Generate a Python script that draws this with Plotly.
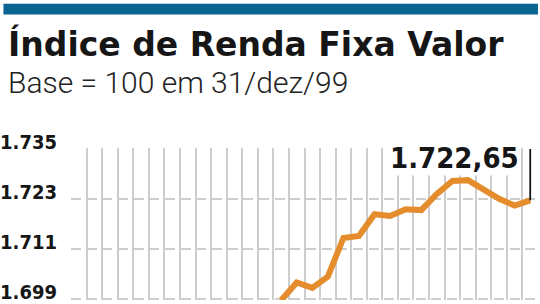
import plotly.graph_objects as go

# ---- data ----
title = "Índice de Renda Fixa Valor"
subtitle = "Base = 100 em 31/dez/99"
n_days = 30
days = list(range(n_days))
# visible part of the series (last 17 sessions); earlier ones fall below the cropped area
visible_days = list(range(13, 30))
index_values = [1698.6, 1702.9, 1701.6, 1704.3, 1713.6, 1714.1, 1719.3, 1718.9,
                1720.5, 1720.3, 1724.2, 1727.3, 1727.5, 1725.4, 1723.0, 1721.4, 1722.65]
y_ticks = [1699, 1711, 1723, 1735]
y_tick_labels = ["1.699", "1.711", "1.723", "1.735"]

W, H = 540, 304
ML, MR, MT, MB = 68, 2, 148, 0
PW, PH = W - ML - MR, H - MT - MB

def px_x(p):
    return (p - ML) / PW

def px_y(p):
    return (H - MB - p) / PH

def fmt_br(v):
    s = f"{v:,.2f}"
    return s.replace(",", "X").replace(".", ",").replace("X", ".")

orange = "#E58C2C"
ink = "#161616"
grid = "#CDCDCD"

fig = go.Figure()
fig.add_trace(go.Scatter(x=visible_days, y=index_values, mode="lines",
                         line=dict(color=orange, width=6), hoverinfo="skip"))

ytop = 1735 + 12 / 51.2
ybot = ytop - PH * 12 / 51.2

fig.update_layout(
    width=W, height=H,
    margin=dict(l=ML, r=MR, t=MT, b=MB, pad=0),
    paper_bgcolor="white", plot_bgcolor="white",
    showlegend=False,
    xaxis=dict(range=[-0.5, n_days - 0.5], tickvals=[d - 0.5 for d in days],
               showticklabels=False, ticks="", showgrid=True, gridcolor=grid,
               gridwidth=2, zeroline=False, showline=False, fixedrange=True),
    yaxis=dict(range=[ybot, ytop], tickvals=y_ticks, ticktext=y_tick_labels,
               showgrid=True, gridcolor=grid, gridwidth=1.6, griddash="10px,5.67px",
               zeroline=False, showline=False, ticks="",
               ticklabelstandoff=13, ticklabelshift=-7, ticklabeloverflow="allow",
               tickfont=dict(family="DejaVu Sans Condensed", size=20, color=ink, weight="bold"),
               fixedrange=True),
)

# top blue band
fig.add_shape(type="rect", xref="paper", yref="paper",
              x0=px_x(0), x1=px_x(538), y0=px_y(11), y1=px_y(0),
              fillcolor="#0B6592", line=dict(width=0), layer="above")

# title and subtitle
fig.add_annotation(xref="paper", yref="paper", x=px_x(3), y=px_y(64),
                   xanchor="left", yanchor="bottom", showarrow=False, text=title,
                   font=dict(family="DejaVu Sans", size=33, color=ink, weight="bold"))
fig.add_annotation(xref="paper", yref="paper", x=px_x(3), y=px_y(101),
                   xanchor="left", yanchor="bottom", showarrow=False, text=subtitle,
                   font=dict(family="Roboto", size=30, color="#222222", weight=300))

# last value marker line and label
last_x, last_v = visible_days[-1], index_values[-1]
fig.add_shape(type="line", xref="x", yref="y", x0=last_x, x1=last_x,
              y0=last_v, y1=1735, line=dict(color=ink, width=1.8), layer="above")
fig.add_annotation(xref="x", yref="y", x=last_x, y=1735, xanchor="right", yanchor="top",
                   xshift=-10, yshift=9, showarrow=False, text=fmt_br(last_v),
                   bgcolor="white", borderpad=0,
                   font=dict(family="DejaVu Sans Condensed", size=29, color=ink, weight="bold"))

fig.write_html("out.html")
